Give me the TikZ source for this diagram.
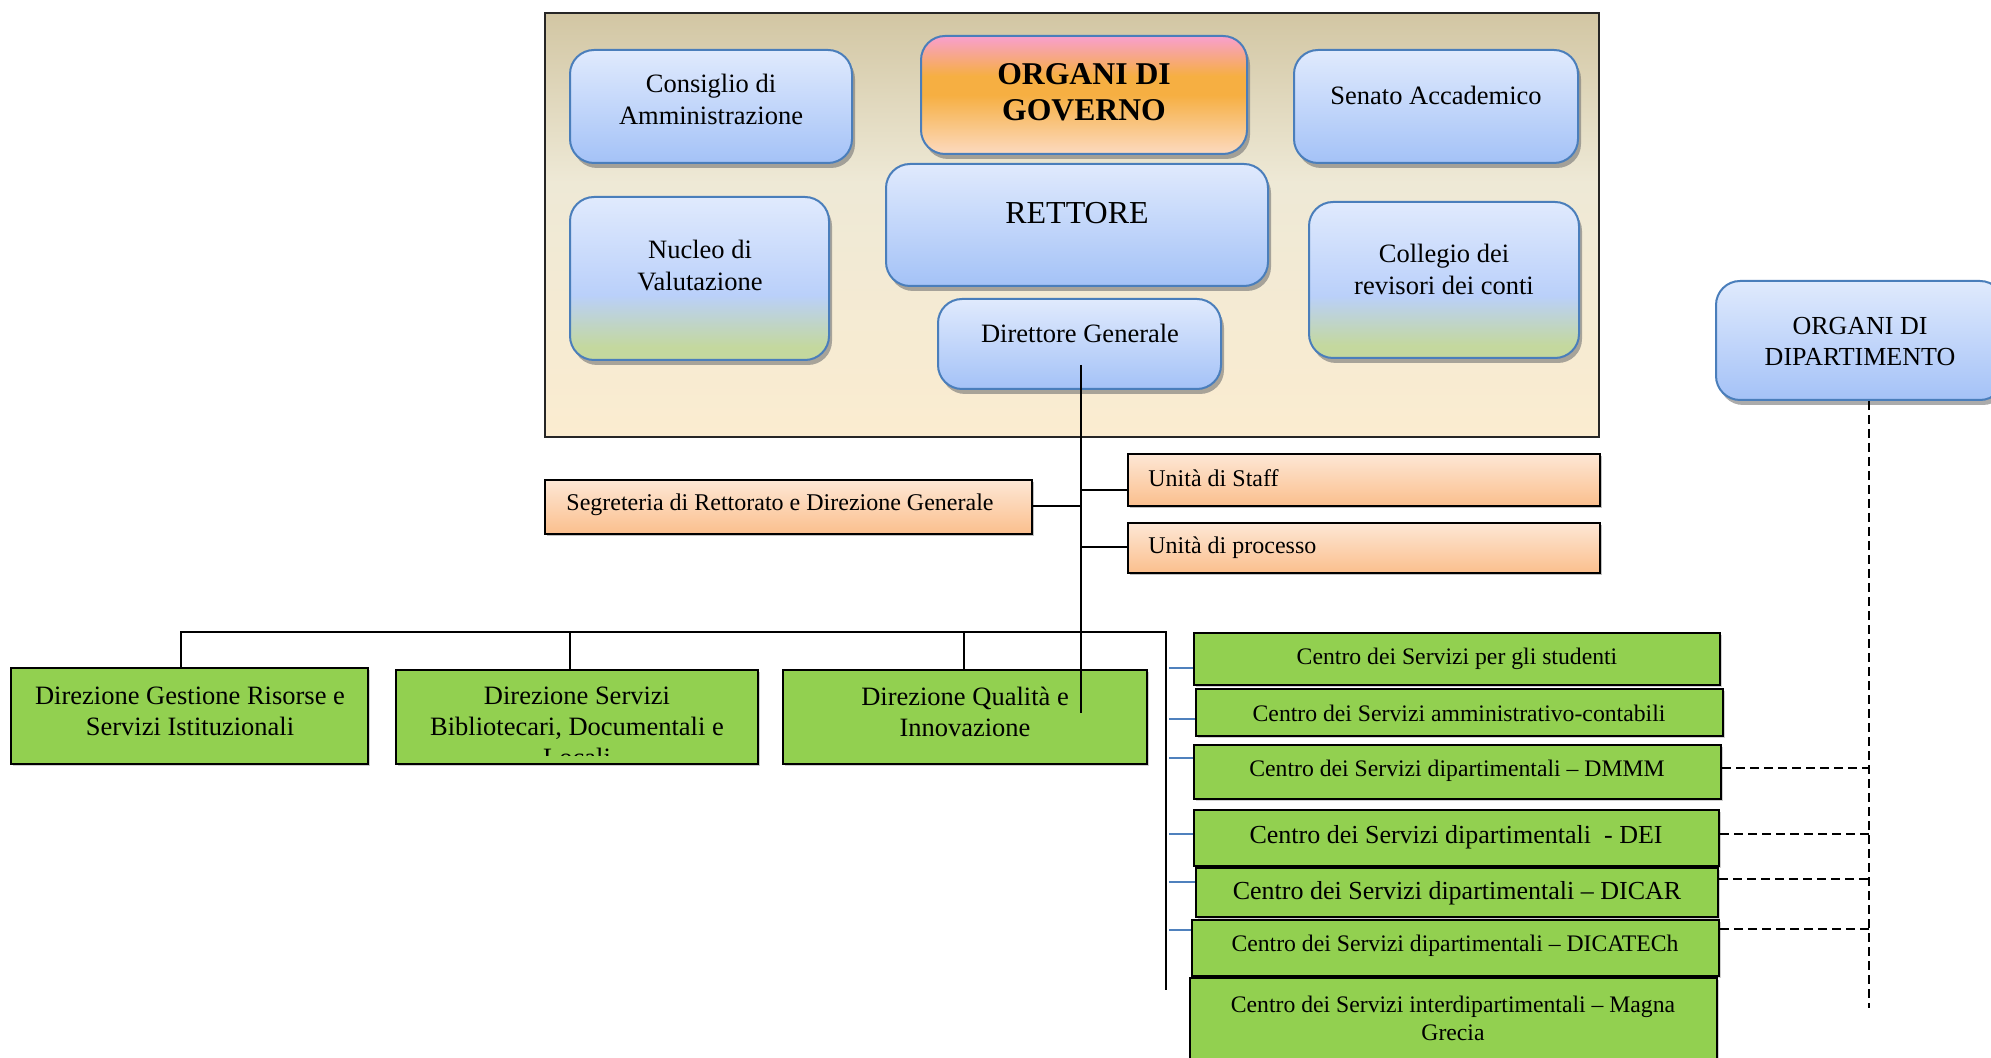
\documentclass[tikz,border=0pt]{standalone}
\usepackage{fontspec}
\setmainfont{Liberation Serif}
\usetikzlibrary{fit,shadows,calc}
\definecolor{bluetop}{RGB}{224,234,253}
\definecolor{bluebot}{RGB}{164,194,247}
\definecolor{bluemid}{RGB}{186,208,250}
\definecolor{nugreen}{RGB}{196,216,158}
\definecolor{bord}{RGB}{74,126,187}
\definecolor{orgpink}{RGB}{248,160,198}
\definecolor{orgor}{RGB}{246,175,66}
\definecolor{orgpeach}{RGB}{252,218,192}
\definecolor{pantop}{RGB}{210,198,163}
\definecolor{panmid}{RGB}{238,233,214}
\definecolor{panbot}{RGB}{251,236,208}
\definecolor{ortop}{RGB}{253,231,213}
\definecolor{orbot}{RGB}{251,191,141}
\definecolor{grn}{RGB}{146,208,80}
\definecolor{lnblue}{RGB}{79,129,189}
\pgfdeclareverticalshading{panelsh}{100bp}{color(0bp)=(panbot); color(25bp)=(panbot); color(55bp)=(panmid); color(75bp)=(pantop); color(100bp)=(pantop)}
\pgfdeclareverticalshading{nucsh}{100bp}{color(0bp)=(nugreen); color(29bp)=(nugreen); color(45bp)=(bluemid); color(75bp)=(bluetop); color(100bp)=(bluetop)}
\pgfdeclareverticalshading{orgsh}{100bp}{color(0bp)=(orgpeach); color(25bp)=(orgpeach); color(50bp)=(orgor); color(58bp)=(orgor); color(74bp)=(orgpink); color(100bp)=(orgpink)}
\tikzset{
  box/.style={inner sep=0pt, rounded corners=12pt, draw=bord, line width=1pt,
    drop shadow={shadow xshift=1.5pt, shadow yshift=-2.5pt, fill=black!55, opacity=.6}},
  bluebox/.style={box, top color=bluetop, bottom color=bluebot},
  nucbox/.style={box, shading=nucsh},
  orgbox/.style={box, shading=orgsh},
  orbox/.style={inner sep=0pt, draw=black, line width=1.2pt, top color=ortop, bottom color=orbot,
    drop shadow={shadow xshift=1pt, shadow yshift=-1pt, fill=black!40, opacity=.6}},
  grbox/.style={inner sep=0pt, draw=black, line width=1.2pt, fill=grn,
    drop shadow={shadow xshift=.8pt, shadow yshift=-.8pt, fill=black!30, opacity=.6}},
  lab/.style={align=center, inner sep=0pt, font=\fontsize{13.25}{16}\selectfont},
  dlab/.style={align=center, inner sep=0pt, font=\fontsize{13.25}{15.5}\selectfont},
  olab/.style={anchor=west, inner sep=0pt, font=\fontsize{12}{14}\selectfont},
  clab/.style={align=center, inner sep=0pt, font=\fontsize{11.85}{14}\selectfont},
  cbig/.style={align=center, inner sep=0pt, font=\fontsize{13}{15}\selectfont},
  conn/.style={line width=1.1pt},
  bconn/.style={draw=lnblue, line width=1pt},
  dconn/.style={dash pattern=on 4.5pt off 2.5pt, line width=1.4pt}
}
\begin{document}
\begin{tikzpicture}[x=0.5pt,y=-0.5pt]
\useasboundingbox (0,0) rectangle (1991,1058);
\fill[white] (0,0) rectangle (1991,1058);
\clip (0,0) rectangle (1991,1058);

% governing panel
\node[fit={(545,13)(1599,437)}, inner sep=0pt, draw=black!85, line width=1.2pt, shading=panelsh] (panel) {};
\node[bluebox, fit={(570,50)(852,163)}] (cons) {};
\node[lab] at (711,99) {Consiglio di\\Amministrazione};
\node[orgbox, fit={(921,36)(1247,154)}] (gov) {};
\node[lab, font=\bfseries\fontsize{15.85}{18}\selectfont] at (1084,92) {ORGANI DI\\GOVERNO};
\node[bluebox, fit={(1294,50)(1578,163)}] (sen) {};
\node[lab] at (1436,95) {Senato Accademico};
\node[nucbox, fit={(570,197)(829,360)}] (nuc) {};
\node[lab] at (700,266) {Nucleo di\\Valutazione};
\node[bluebox, fit={(886,164)(1268,286)}] (ret) {};
\node[lab, font=\fontsize{16}{18}\selectfont] at (1077,213) {RETTORE};
\node[nucbox, fit={(1309,202)(1579,358)}] (col) {};
\node[lab] at (1444,269) {Collegio dei\\revisori dei conti};
\node[bluebox, fit={(938,299)(1221,389)}] (dg) {};
\node[lab] at (1080,333) {Direttore Generale};

% department organs
\node[bluebox, fit={(1716,281)(2004,400)}] (dip) {};
\node[lab, font=\fontsize{13}{15.5}\selectfont] at (1860,342) {ORGANI DI\\DIPARTIMENTO};

% staff units
\node[orbox, fit={(545,480)(1032,534)}] (seg) {};
\node[olab] at (566,505) {Segreteria di Rettorato e Direzione Generale};
\node[orbox, fit={(1128,454)(1600,506)}] (staff) {};
\node[olab] at (1148,478) {Unità di Staff};
\node[orbox, fit={(1128,523)(1600,573)}] (proc) {};
\node[olab] at (1148,548) {Unità di processo};

% directions
\node[grbox, fit={(11,668)(368,764)}] (dir1) {};
\node[dlab] at (190,711) {Direzione Gestione Risorse e\\Servizi Istituzionali};
\node[grbox, fit={(396,670)(758,764)}] (dir2) {};
\begin{scope}
\clip (396,670) rectangle (758,755);
\node[dlab] at (577,727) {Direzione Servizi\\Bibliotecari, Documentali e\\Locali};
\end{scope}
\node[grbox, fit={(783,670)(1147,764)}] (dir3) {};
\node[dlab] at (965,712) {Direzione Qualità e\\Innovazione};

% service centres
\node[grbox, fit={(1194,633)(1720,685)}] (c1) {};
\node[clab] at (1457,659) {Centro dei Servizi per gli studenti};
\node[grbox, fit={(1196,689)(1723,736)}] (c2) {};
\node[clab] at (1459,713) {Centro dei Servizi amministrativo-contabili};
\node[grbox, fit={(1194,745)(1721,799)}] (c3) {};
\node[clab] at (1457,771) {Centro dei Servizi dipartimentali – DMMM};
\node[grbox, fit={(1194,810)(1719,866)}] (c4) {};
\node[cbig] at (1456,837) {Centro dei Servizi dipartimentali\ \ - DEI};
\node[grbox, fit={(1196,868)(1718,917)}] (c5) {};
\node[cbig] at (1457,893) {Centro dei Servizi dipartimentali – DICAR};
\node[grbox, fit={(1192,920)(1719,976)}] (c6) {};
\node[clab] at (1455,946) {Centro dei Servizi dipartimentali – DICATECh};
\node[grbox, fit={(1190,978)(1717,1066)}] (c7) {};
\node[clab] at (1453,1018) {Centro dei Servizi interdipartimentali – Magna\\Grecia};

% connectors
\coordinate (dgl) at (1081,365);
\coordinate (dgend) at (1081,713);
\draw[conn] (dgl) -- (dgend);
\draw[conn] (seg.east |- 0,506) -- (1081,506);
\draw[conn] (1081,490) -- (staff.west |- 0,490);
\draw[conn] (1081,547) -- (proc.west |- 0,547);
\draw[conn, line width=1.3pt] (181,668) -- (181,632) -- (1166,632) -- (1166,990);
\draw[conn] (570,632) -- (570,670);
\draw[conn] (964,632) -- (964,670);
\draw[bconn] (1169,668) -- (c1.west |- 0,668);
\draw[bconn] (1169,719) -- (c2.west |- 0,719);
\draw[bconn] (1169,758) -- (c3.west |- 0,758);
\draw[bconn] (1169,834) -- (c4.west |- 0,834);
\draw[bconn] (1169,882) -- (c5.west |- 0,882);
\draw[bconn] (1169,930) -- (c6.west |- 0,930);
\draw[dconn] (1869,401) -- (1869,1008);
\draw[dconn] (c3.east |- 0,768) -- (1869,768);
\draw[dconn] (c4.east |- 0,834) -- (1869,834);
\draw[dconn] (c5.east |- 0,879) -- (1869,879);
\draw[dconn] (c6.east |- 0,929) -- (1869,929);
\end{tikzpicture}
\end{document}
